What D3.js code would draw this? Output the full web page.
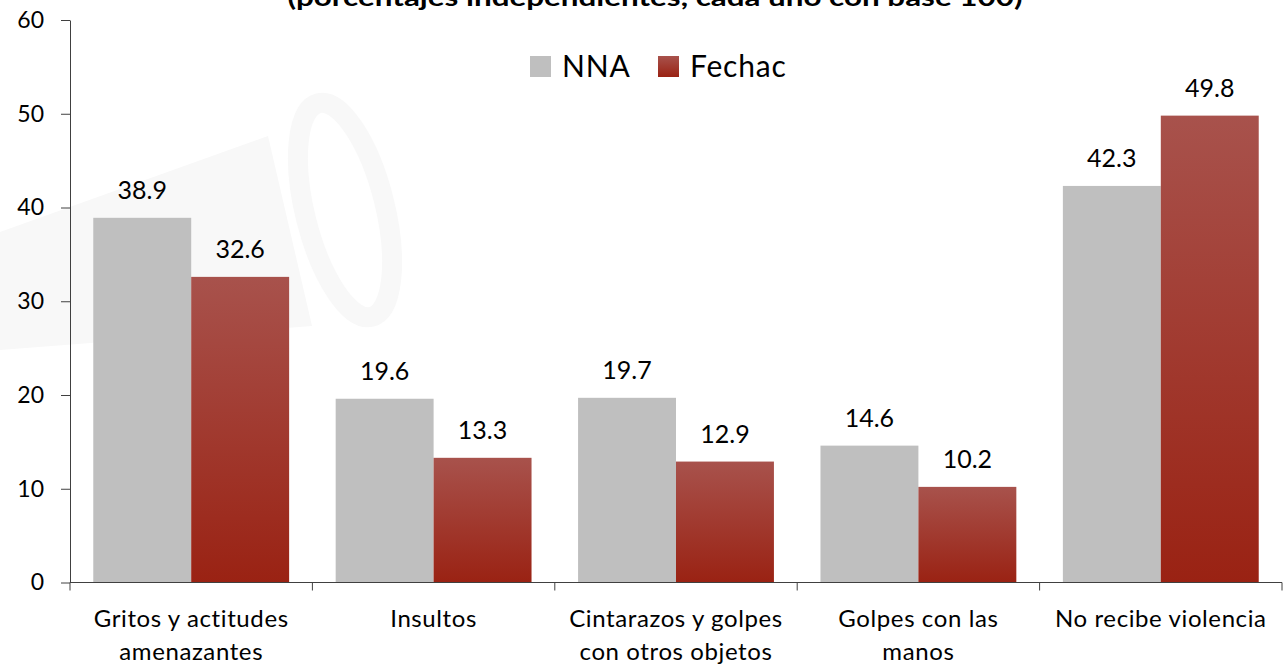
<!DOCTYPE html>
<meta charset="utf-8">
<html>
<head>
<style>
  body { margin: 0; background: #fff; }
  svg { display: block; font-family: Lato, "Open Sans", sans-serif; }
</style>
</head>
<body>
<svg width="1284" height="669"></svg>
<script src="https://d3js.org/d3.v7.min.js"></script>
<script>

var categories = [
  ["Gritos y actitudes", "amenazantes"],
  ["Insultos"],
  ["Cintarazos y golpes", "con otros objetos"],
  ["Golpes con las", "manos"],
  ["No recibe violencia"]
];
var seriesNames = ["NNA", "Fechac"];
var nna = [38.9, 19.6, 19.7, 14.6, 42.3];
var fechac = [32.6, 13.3, 12.9, 10.2, 49.8];
var yTicks = [0, 10, 20, 30, 40, 50, 60];
var title = "(porcentajes independientes, cada uno con base 100)";

var svg = d3.select("svg");

var defs = svg.append("defs");
var grad = defs.append("linearGradient")
    .attr("id", "redGrad")
    .attr("x1", 0).attr("y1", 0).attr("x2", 0).attr("y2", 1);
grad.append("stop").attr("offset", "0%").attr("stop-color", "#a8524c");
grad.append("stop").attr("offset", "100%").attr("stop-color", "#9a2213");

// faint watermark behind the chart
var wm = svg.append("g");
wm.append("path").attr("d", "M0,232 L268,136 L312,326 L0,350 Z").attr("fill", "#f8f8f8");
wm.append("ellipse")
    .attr("cx", 345).attr("cy", 210).attr("rx", 40).attr("ry", 110)
    .attr("transform", "rotate(-14,345,210)")
    .attr("fill", "none").attr("stroke", "#f8f8f8").attr("stroke-width", 20);

var x0 = d3.scaleBand()
    .domain(d3.range(categories.length))
    .range([70, 1282])
    .padding(0);

var x1 = d3.scaleBand()
    .domain(seriesNames)
    .range([0, x0.bandwidth()])
    .paddingInner(0)
    .paddingOuter(0.2376);

var y = d3.scaleLinear().domain([0, 60]).range([582.5, 20]);

var rows = categories.map(function(c, i) {
  return { i: i, values: [
    { key: "NNA", v: nna[i] },
    { key: "Fechac", v: fechac[i] }
  ]};
});

var groups = svg.append("g").selectAll("g")
    .data(rows)
    .enter().append("g")
    .attr("transform", function(d) { return "translate(" + x0(d.i) + ",0)"; });

groups.selectAll("rect")
    .data(function(d) { return d.values; })
    .enter().append("rect")
    .attr("x", function(d) { return x1(d.key); })
    .attr("y", function(d) { return y(d.v); })
    .attr("width", x1.bandwidth())
    .attr("height", function(d) { return y(0) - y(d.v); })
    .attr("fill", function(d) { return d.key == "NNA" ? "#bfbfbf" : "url(#redGrad)"; });

groups.selectAll("text.val")
    .data(function(d) { return d.values; })
    .enter().append("text")
    .attr("class", "val")
    .attr("x", function(d) { return x1(d.key) + x1.bandwidth() / 2; })
    .attr("y", function(d) { return y(d.v) - 19; })
    .attr("text-anchor", "middle")
    .attr("font-size", 25)
    .attr("fill", "#000")
    .text(function(d) { return d.v.toFixed(1); });

// y axis
var yAxis = d3.axisLeft(y).tickValues(yTicks).tickSize(9).tickPadding(17).tickSizeOuter(0);
var gy = svg.append("g").attr("transform", "translate(70,0)").call(yAxis);
gy.select(".domain").attr("stroke", "#404040");
gy.selectAll(".tick line").attr("stroke", "#404040");
gy.selectAll(".tick text").attr("font-size", 23).attr("fill", "#000")
    .attr("font-family", "Lato, sans-serif");

// x axis baseline and category separators
var gx = svg.append("g");
gx.append("line")
    .attr("x1", 70).attr("x2", x0.range()[1])
    .attr("y1", y(0)).attr("y2", y(0))
    .attr("stroke", "#404040");
var seps = d3.range(categories.length + 1).map(function(i) {
  return i < categories.length ? x0(i) : x0.range()[1];
});
gx.selectAll("line.sep")
    .data(seps)
    .enter().append("line")
    .attr("class", "sep")
    .attr("x1", function(d) { return d; }).attr("x2", function(d) { return d; })
    .attr("y1", y(0)).attr("y2", y(0) + 8)
    .attr("stroke", "#404040");

var labels = gx.selectAll("text.cat")
    .data(categories)
    .enter().append("text")
    .attr("class", "cat")
    .attr("text-anchor", "middle")
    .attr("font-size", 24)
    .attr("letter-spacing", 0.6)
    .attr("fill", "#000")
    .attr("transform", function(d, i) { return "translate(" + (x0(i) + x0.bandwidth() / 2) + ",627)"; });
labels.selectAll("tspan")
    .data(function(d) { return d; })
    .enter().append("tspan")
    .attr("x", 0)
    .attr("y", function(d, i) { return i * 33; })
    .text(function(d) { return d; });

// legend
var legendX = [530, 658];
var legend = svg.append("g").selectAll("g")
    .data(seriesNames)
    .enter().append("g")
    .attr("transform", function(d, i) { return "translate(" + legendX[i] + ",56)"; });
legend.append("rect")
    .attr("width", 21).attr("height", 21)
    .attr("fill", function(d) { return d == "NNA" ? "#bfbfbf" : "url(#redGrad)"; });
legend.append("text")
    .attr("x", 32).attr("y", 21)
    .attr("font-size", 30)
    .attr("letter-spacing", 0.8)
    .attr("fill", "#000")
    .text(function(d) { return d; });

// title (cut off at the top, as in the source)
svg.append("text")
    .attr("x", 655).attr("y", 6)
    .attr("text-anchor", "middle")
    .attr("font-size", 25)
    .attr("font-weight", "bold")
    .attr("textLength", 735)
    .attr("lengthAdjust", "spacingAndGlyphs")
    .attr("fill", "#000")
    .text(title);

</script>
</body>
</html>
